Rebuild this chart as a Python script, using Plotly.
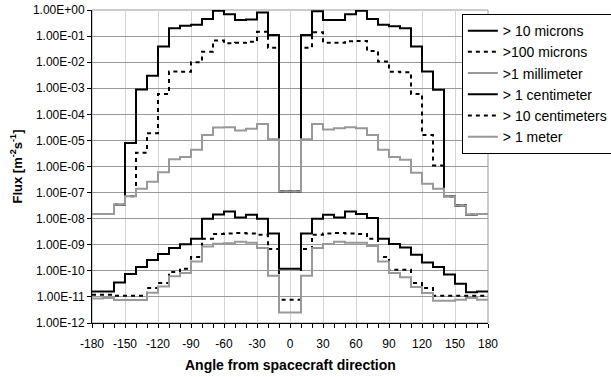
import plotly.graph_objects as go

# bin edges (degrees) and per-bin flux values (m^-2 s^-1)
edges = list(range(-180, 190, 10))

names = ["> 10 microns", ">100 microns", ">1 millimeter",
         "> 1 centimeter", "> 10 centimeters", "> 1 meter"]

flux_10um = [1.5e-8, 1.5e-8, 3.4e-8, 8e-6, 9e-4, 3e-3, 4e-2, 2e-1, 2.5e-1, 2.7e-1,
             4.5e-1, 9.4e-1, 6.8e-1, 4.1e-1, 4.3e-1, 8.1e-1, 1.1e-1, 1.1e-7, 1.1e-7, 1.1e-1,
             9e-1, 4.1e-1, 4.1e-1, 6.8e-1, 9.4e-1, 4.5e-1, 2.7e-1, 2.4e-1, 2e-1, 4e-2,
             4.4e-3, 8.7e-4, 7.2e-8, 3.2e-8, 1.4e-8, 1.5e-8]
flux_100um = [1.5e-8, 1.5e-8, 3.4e-8, 7.2e-8, 3.4e-6, 1.9e-5, 6e-4, 4.4e-3, 4.3e-3, 1.0e-2,
              2.5e-2, 6.7e-2, 5.3e-2, 5.5e-2, 6e-2, 1.45e-1, 3.6e-2, 1.1e-7, 1.1e-7, 3.6e-2,
              1.4e-1, 5.6e-2, 5.5e-2, 6.3e-2, 6.5e-2, 2.7e-2, 1.05e-2, 4.3e-3, 4.1e-3, 6e-4,
              1.6e-5, 1.1e-6, 7.2e-8, 3.2e-8, 1.4e-8, 1.5e-8]
flux_1mm = [1.5e-8, 1.5e-8, 3.4e-8, 7.2e-8, 1.4e-7, 2.6e-7, 6e-7, 1.9e-6, 2.3e-6, 4.4e-6,
            1.6e-5, 3.1e-5, 3.2e-5, 2.4e-5, 2.8e-5, 4.3e-5, 1.1e-5, 1.1e-7, 1.1e-7, 1.1e-5,
            4.3e-5, 2.6e-5, 2.9e-5, 3.2e-5, 2.9e-5, 1.6e-5, 4.4e-6, 2.3e-6, 1.8e-6, 5.7e-7,
            2.2e-7, 1.4e-7, 7.2e-8, 3.2e-8, 1.4e-8, 1.5e-8]
flux_1cm = [1.6e-11, 1.6e-11, 3.6e-11, 7.6e-11, 1.4e-10, 2.6e-10, 4.4e-10, 7.5e-10, 1.05e-9, 1.7e-9,
            1.0e-8, 1.45e-8, 1.9e-8, 1.1e-8, 1.4e-8, 1.0e-8, 2.7e-9, 1.2e-10, 1.2e-10, 2.7e-9,
            1.0e-8, 1.4e-8, 1.1e-8, 1.9e-8, 1.5e-8, 1.05e-8, 1.7e-9, 1.07e-9, 7.9e-10, 4.1e-10,
            2.1e-10, 1.4e-10, 7.2e-11, 3.2e-11, 1.5e-11, 1.6e-11]
flux_10cm = [1.2e-11, 1.2e-11, 1.1e-11, 1.1e-11, 1.1e-11, 2.2e-11, 3.4e-11, 9e-11, 1.2e-10, 3.4e-10,
             1.7e-9, 2.6e-9, 2.7e-9, 2.8e-9, 2.7e-9, 2.4e-9, 6.8e-10, 7.8e-12, 7.8e-12, 6.8e-10,
             2.4e-9, 2.7e-9, 2.8e-9, 2.7e-9, 2.6e-9, 1.7e-9, 3.4e-10, 1.1e-10, 1.1e-10, 3.4e-11,
             2.2e-11, 1.1e-11, 1.1e-11, 1.1e-11, 1.1e-11, 1.1e-11]
flux_1m = [8.7e-12, 9e-12, 7.7e-12, 7.7e-12, 7.7e-12, 1.45e-11, 2.5e-11, 6.2e-11, 8.2e-11, 2.3e-10,
           8.5e-10, 1.1e-9, 1.15e-9, 1.3e-9, 1.2e-9, 7.5e-10, 6.5e-11, 2.5e-12, 2.5e-12, 6.5e-11,
           7.5e-10, 1.07e-9, 1.3e-9, 1.2e-9, 1.2e-9, 9e-10, 2.3e-10, 8.2e-11, 5.7e-11, 2.4e-11,
           1.4e-11, 7.1e-12, 7.1e-12, 7.8e-12, 9e-12, 7.8e-12]

x_tickvals = list(range(-180, 181, 30))
x_ticktext = ["-180", "-150", "-120", "-90", "-60", "-30", "0",
              "30", "60", "90", "120", "150", "180"]
y_tickvals = [10.0 ** k for k in range(-12, 1)]
y_ticktext = ["1.00E-12", "1.00E-11", "1.00E-10", "1.00E-09", "1.00E-08", "1.00E-07",
              "1.00E-06", "1.00E-05", "1.00E-04", "1.00E-03", "1.00E-02", "1.00E-01", "1.00E+00"]

series = [flux_10um, flux_100um, flux_1mm, flux_1cm, flux_10cm, flux_1m]
styles = [("#000000", "solid"), ("#000000", "4px,4px"), ("#999999", "solid"),
          ("#000000", "solid"), ("#000000", "4px,4px"), ("#999999", "solid")]

FONT = "Liberation Sans, Arial, sans-serif"

fig = go.Figure()
for name, vals, (col, dash) in zip(names, series, styles):
    fig.add_trace(go.Scatter(
        x=edges, y=vals + [vals[-1]], name=name, mode="lines",
        line=dict(color=col, width=2, dash=dash, shape="hv"),
    ))

# plot frame (top/right gray border)
fig.add_shape(type="rect", xref="x domain", yref="y domain", x0=0, x1=1, y0=0, y1=1,
              line=dict(color="#999999", width=1), layer="below")

fig.update_layout(
    width=611, height=377,
    margin=dict(l=92, r=123, t=10, b=54, autoexpand=False),
    paper_bgcolor="white", plot_bgcolor="white",
    font=dict(family=FONT, size=12, color="black"),
    showlegend=True,
    legend=dict(x=0.934, y=0.987, xanchor="left", yanchor="top",
                bgcolor="white", bordercolor="black", borderwidth=1,
                font=dict(family=FONT, size=14, color="black"),
                itemwidth=30, tracegroupgap=0),
    xaxis=dict(range=[-180, 180], tickvals=x_tickvals, ticktext=x_ticktext,
               ticks="outside", ticklen=4, ticklabelstandoff=6,
               tickcolor="black", showline=True, linecolor="black", linewidth=1,
               showgrid=True, gridcolor="#d4d4d4", gridwidth=1, zeroline=False,
               tickfont=dict(family=FONT, size=12, color="black"),
               minor=dict(dtick=10, tick0=-180, ticks="outside", ticklen=4, tickcolor="black",
                          showgrid=False)),
    yaxis=dict(type="log", range=[-12, 0], tickvals=y_tickvals, ticktext=y_ticktext,
               ticks="outside", ticklen=4, tickcolor="black", showline=True,
               linecolor="black", linewidth=1, showgrid=True, gridcolor="#999999",
               gridwidth=1, zeroline=False,
               tickfont=dict(family=FONT, size=12, color="black")),
    annotations=[
        dict(text="<b>Angle from spacecraft direction</b>", xref="paper", yref="paper",
             x=0.5, y=0, xanchor="center", yanchor="middle", yshift=-42, showarrow=False,
             font=dict(family=FONT, size=14, color="black")),
        dict(text="<b>Flux [m<sup>-2</sup>s<sup>-1</sup>]</b>", xref="paper", yref="paper",
             x=0, y=0.5, xanchor="center", yanchor="middle", xshift=-76, textangle=-90,
             showarrow=False, font=dict(family=FONT, size=13, color="black")),
    ],
)

fig.write_html("out.html")
